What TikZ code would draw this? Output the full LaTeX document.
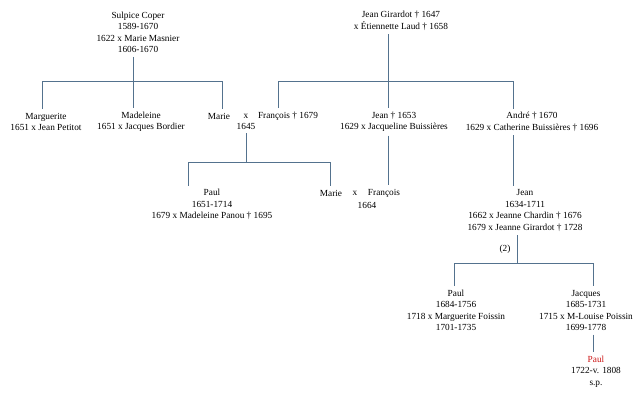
\documentclass[tikz,border=0pt]{standalone}
\usepackage{fontspec}
\setmainfont{Liberation Serif}
\definecolor{treeblue}{RGB}{84,114,142}
\definecolor{heir}{RGB}{204,20,20}

\begin{document}
\begin{tikzpicture}[
      x=1pt,y=-1pt,
      person/.style={align=center,inner sep=3.5pt,font=\fontsize{9.3}{11.6}\selectfont},
      tree/.style={draw=treeblue,line width=1pt}
    ]
    \useasboundingbox (0,0) rectangle (640,400);

    % first generation
    \node[person] (sulpice) at (138,32.4) {Sulpice Coper\\1589-1670\\1622 x Marie Masnier\\1606-1670};
    \node[person] (girardot) at (401,20.8) {Jean Girardot † 1647\\x Étiennette Laud † 1658};

    % second generation
    \node[person] (marguerite) at (46,121.8) {Marguerite\\1651 x Jean Petitot};
    \node[person] (madeleine) at (141,121.8) {Madeleine\\1651 x Jacques Bordier};
    \node[person] (marie) at (219,116) {Marie};
    \node[person] (xa) at (246,121.8) {x\\1645};
    \node[person] (francois) at (288,116) {François † 1679};
    \node[person] (jeana) at (394,121.8) {Jean † 1653\\1629 x Jacqueline Buissières};
    \node[person] (andre) at (532,121.8) {André † 1670\\1629 x Catherine Buissières † 1696};

    % third generation
    \node[person] (paula) at (212,204.6) {Paul\\1651-1714\\1679 x Madeleine Panou † 1695};
    \node[person] (marieb) at (331,193) {Marie};
    \node[person] (xb) at (355,193) {x};
    \node[person] (yb) at (367,205) {1664};
    \node[person] (francoisb) at (384,193) {François};
    \node[person] (jeanb) at (525,210.4) {Jean\\1634-1711\\1662 x Jeanne Chardin † 1676\\1679 x Jeanne Girardot † 1728};
    \node[person] (second) at (505,249) {(2)};

    % fourth and fifth generation
    \node[person] (paulb) at (456,310.4) {Paul\\1684-1756\\1718 x Marguerite Foissin\\1701-1735};
    \node[person] (jacques) at (586,310.4) {Jacques\\1685-1731\\1715 x M-Louise Poissin\\1699-1778};
    \node[person] (paulc) at (596,371.6) {\textcolor{heir}{Paul}\\1722-v. 1808\\s.p.};

    % Coper children
    \coordinate (cb) at (133,81);
    \coordinate (cbl) at (42,81);
    \coordinate (cbr) at (222,81);
    \draw[tree] (sulpice.south -| cb) -- (cb |- madeleine.north);
    \draw[tree] (cbl |- marguerite.north) -- (cbl) -- (cbr) -- (cbr |- marie.north);

    % Girardot children
    \coordinate (gb) at (388,81);
    \coordinate (gbl) at (278,81);
    \coordinate (gbr) at (513,81);
    \draw[tree] (girardot.south -| gb) -- (gb |- jeana.north);
    \draw[tree] (gbl |- francois.north) -- (gbl) -- (gbr) -- (gbr |- andre.north);
    \draw[tree] (jeana.south -| gb) -- (gb |- francoisb.north);
    \draw[tree] (andre.south -| gbr) -- (gbr |- jeanb.north);

    % Marie x François 1645
    \coordinate (mb) at (246,162);
    \coordinate (mbl) at (188,162);
    \coordinate (mbr) at (330,162);
    \draw[tree] (xa.south -| mb) -- (mb);
    \draw[tree] (mbl |- paula.north) -- (mbl) -- (mbr) -- (mbr |- marieb.north);

    % Jean, second marriage
    \coordinate (jb) at (517,263);
    \coordinate (jbl) at (454,263);
    \coordinate (jbr) at (593,263);
    \draw[tree] (jeanb.south -| jb) -- (jb);
    \draw[tree] (jbl |- paulb.north) -- (jbl) -- (jbr) -- (jbr |- jacques.north);
    \draw[tree] (jacques.south -| jbr) -- (jbr |- paulc.north);
  \end{tikzpicture}
\end{document}
